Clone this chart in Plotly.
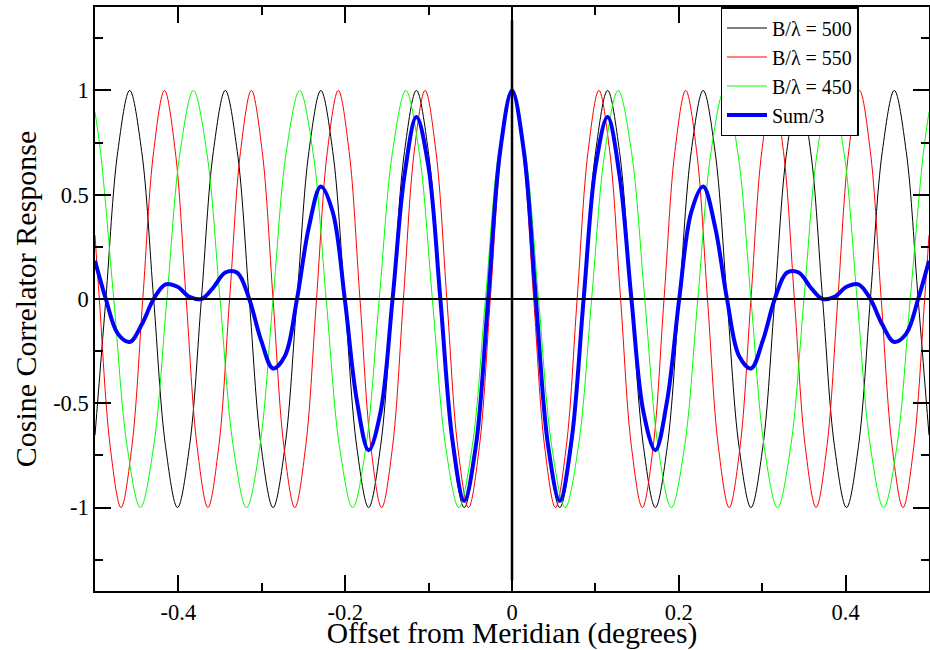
import plotly.graph_objects as go

# ---- data ----
black_x = [-0.5, -0.4870, -0.4727, -0.4584, -0.4440, -0.4297, -0.4154, -0.4011, -0.3867, -0.3724, -0.3581,
           -0.3438, -0.3294, -0.3151, -0.3008, -0.2865, -0.2722, -0.2578, -0.2435, -0.2292, -0.2149,
           -0.2005, -0.1862, -0.1719, -0.1576, -0.1432, -0.1289, -0.1146, -0.1003, -0.0859, -0.0716,
           -0.0573, -0.0430, -0.0286, -0.0143, 0.0,
           0.0143, 0.0286, 0.0430, 0.0573, 0.0716, 0.0859, 0.1003, 0.1146, 0.1289, 0.1432,
           0.1576, 0.1719, 0.1862, 0.2005, 0.2149, 0.2292, 0.2435, 0.2578, 0.2722, 0.2865,
           0.3008, 0.3151, 0.3294, 0.3438, 0.3581, 0.3724, 0.3867, 0.4011, 0.4154, 0.4297,
           0.4440, 0.4584, 0.4727, 0.4870, 0.5]
black_y = [-0.653,
           0.0, 0.707, 1.0, 0.707, 0.0, -0.707, -1.0, -0.707,
           0.0, 0.707, 1.0, 0.707, 0.0, -0.707, -1.0, -0.707,
           0.0, 0.707, 1.0, 0.707, 0.0, -0.707, -1.0, -0.707,
           0.0, 0.707, 1.0, 0.707, 0.0, -0.707, -1.0, -0.707,
           0.0, 0.707,
           1.0,
           0.707, 0.0,
           -0.707, -1.0, -0.707, 0.0, 0.707, 1.0, 0.707, 0.0,
           -0.707, -1.0, -0.707, 0.0, 0.707, 1.0, 0.707, 0.0,
           -0.707, -1.0, -0.707, 0.0, 0.707, 1.0, 0.707, 0.0,
           -0.707, -1.0, -0.707, 0.0, 0.707, 1.0, 0.707, 0.0,
           -0.653]

red_x = [-0.5, -0.4948, -0.4818, -0.4688, -0.4558, -0.4427, -0.4297, -0.4167, -0.4037, -0.3907, -0.3776,
         -0.3646, -0.3516, -0.3386, -0.3255, -0.3125, -0.2995, -0.2865, -0.2735, -0.2604, -0.2474,
         -0.2344, -0.2214, -0.2083, -0.1953, -0.1823, -0.1693, -0.1563, -0.1432, -0.1302, -0.1172,
         -0.1042, -0.0912, -0.0781, -0.0651, -0.0521, -0.0391, -0.0260, -0.0130, 0.0,
         0.0130, 0.0260, 0.0391, 0.0521, 0.0651, 0.0781, 0.0912, 0.1042, 0.1172, 0.1302,
         0.1432, 0.1563, 0.1693, 0.1823, 0.1953, 0.2083, 0.2214, 0.2344, 0.2474, 0.2604,
         0.2735, 0.2865, 0.2995, 0.3125, 0.3255, 0.3386, 0.3516, 0.3646, 0.3776, 0.3907,
         0.4037, 0.4167, 0.4297, 0.4427, 0.4558, 0.4688, 0.4818, 0.4948, 0.5]
red_y = [0.306,
         0.0, -0.707, -1.0, -0.707, 0.0, 0.707, 1.0, 0.707,
         0.0, -0.707, -1.0, -0.707, 0.0, 0.707, 1.0, 0.707,
         0.0, -0.707, -1.0, -0.707, 0.0, 0.707, 1.0, 0.707,
         0.0, -0.707, -1.0, -0.707, 0.0, 0.707, 1.0, 0.707,
         0.0, -0.707, -1.0, -0.707, 0.0, 0.707,
         1.0,
         0.707, 0.0, -0.707, -1.0, -0.707, 0.0,
         0.707, 1.0, 0.707, 0.0, -0.707, -1.0, -0.707, 0.0,
         0.707, 1.0, 0.707, 0.0, -0.707, -1.0, -0.707, 0.0,
         0.707, 1.0, 0.707, 0.0, -0.707, -1.0, -0.707, 0.0,
         0.707, 1.0, 0.707, 0.0, -0.707, -1.0, -0.707, 0.0,
         0.306]

green_x = [-0.5, -0.4934, -0.4775, -0.4615, -0.4456, -0.4297, -0.4138, -0.3979, -0.3820, -0.3661, -0.3501,
           -0.3342, -0.3183, -0.3024, -0.2865, -0.2706, -0.2546, -0.2387, -0.2228, -0.2069, -0.1910,
           -0.1751, -0.1592, -0.1432, -0.1273, -0.1114, -0.0955, -0.0796, -0.0637, -0.0477, -0.0318,
           -0.0159, 0.0,
           0.0159, 0.0318, 0.0477, 0.0637, 0.0796, 0.0955, 0.1114, 0.1273, 0.1432, 0.1592,
           0.1751, 0.1910, 0.2069, 0.2228, 0.2387, 0.2546, 0.2706, 0.2865, 0.3024, 0.3183,
           0.3342, 0.3501, 0.3661, 0.3820, 0.3979, 0.4138, 0.4297, 0.4456, 0.4615, 0.4775,
           0.4934, 0.5]
green_y = [0.896, 0.707, 0.0, -0.707, -1.0, -0.707, 0.0, 0.707, 1.0, 0.707, 0.0,
           -0.707, -1.0, -0.707, 0.0, 0.707, 1.0, 0.707, 0.0, -0.707, -1.0,
           -0.707, 0.0, 0.707, 1.0, 0.707, 0.0, -0.707, -1.0, -0.707, 0.0,
           0.707, 1.0,
           0.707, 0.0, -0.707, -1.0, -0.707, 0.0, 0.707, 1.0, 0.707, 0.0,
           -0.707, -1.0, -0.707, 0.0, 0.707, 1.0, 0.707, 0.0, -0.707, -1.0,
           -0.707, 0.0, 0.707, 1.0, 0.707, 0.0, -0.707, -1.0, -0.707, 0.0,
           0.707, 0.896]

sum_x = black_x
sum_y = [0.183, 0.0, -0.1662, -0.2060, -0.1228, 0.0, 0.0704, 0.0585, 0.0106, 0.0, 0.0553,
         0.1273, 0.1257, 0.0, -0.1987, -0.3333, -0.2727, 0.0, 0.3458, 0.5393, 0.4161,
         0.0, -0.4820, -0.7252, -0.5419, 0.0, 0.5942, 0.8727, 0.6376, 0.0, -0.6712,
         -0.9674, -0.6941, 0.0, 0.7057, 1.0,
         0.7057, 0.0, -0.6941, -0.9674, -0.6712, 0.0, 0.6376, 0.8727, 0.5942, 0.0,
         -0.5419, -0.7252, -0.4820, 0.0, 0.4161, 0.5393, 0.3458, 0.0, -0.2727, -0.3333,
         -0.1987, 0.0, 0.1257, 0.1273, 0.0553, 0.0, 0.0106, 0.0585, 0.0704, 0.0,
         -0.1228, -0.2060, -0.1662, 0.0, 0.183]

series_names = ["B/\u03bb = 500", "B/\u03bb = 550", "B/\u03bb = 450", "Sum/3"]

x_tick_vals = [-0.4, -0.2, 0.0, 0.2, 0.4]
x_tick_text = ["-0.4", "-0.2", "0", "0.2", "0.4"]
x_minor_vals = [-0.3, -0.1, 0.1, 0.3]
y_tick_vals = [-1.0, -0.5, 0.0, 0.5, 1.0]
y_tick_text = ["-1", "-0.5", "0", "0.5", "1"]
y_minor_vals = [-1.25, -0.75, -0.25, 0.25, 0.75, 1.25]

FONT = "Liberation Serif, Times New Roman, serif"

fig = go.Figure()
fig.add_trace(go.Scatter(x=black_x, y=black_y, mode="lines", name=series_names[0],
                         line=dict(color="black", width=1, shape="spline")))
fig.add_trace(go.Scatter(x=red_x, y=red_y, mode="lines", name=series_names[1],
                         line=dict(color="#ff0000", width=1, shape="spline")))
fig.add_trace(go.Scatter(x=green_x, y=green_y, mode="lines", name=series_names[2],
                         line=dict(color="#00ff00", width=1, shape="spline")))
fig.add_trace(go.Scatter(x=sum_x, y=sum_y, mode="lines", name=series_names[3],
                         line=dict(color="#0000ff", width=4, shape="spline")))

# reference lines through the origin
fig.add_shape(type="line", xref="x", yref="y", x0=-0.5, x1=0.5, y0=0, y1=0,
              line=dict(color="black", width=2), layer="above")
fig.add_shape(type="line", xref="x", yref="y", x0=0, x1=0, y0=-1.35, y1=1.335,
              line=dict(color="black", width=2.5), layer="above")

axis_common = dict(showline=True, linecolor="black", linewidth=1.5, mirror="allticks",
                   ticks="inside", ticklen=16, tickwidth=1.5, tickcolor="black",
                   showgrid=False, zeroline=False, automargin=False,
                   tickfont=dict(family=FONT, size=22.5, color="black"))

fig.update_xaxes(range=[-0.5, 0.5], tickmode="array", tickvals=x_tick_vals, ticktext=x_tick_text,
                 minor=dict(tickmode="array", tickvals=x_minor_vals, ticks="inside", ticklen=8,
                            tickwidth=1.5, tickcolor="black", showgrid=False),
                 title=dict(text="Offset from Meridian (degrees)",
                            font=dict(family=FONT, size=29.5, color="black"), standoff=7),
                 **axis_common)
fig.update_yaxes(range=[-1.4, 1.4], tickmode="array", tickvals=y_tick_vals, ticktext=y_tick_text,
                 minor=dict(tickmode="array", tickvals=y_minor_vals, ticks="inside", ticklen=8,
                            tickwidth=1.5, tickcolor="black", showgrid=False),
                 title=dict(text="Cosine Correlator Response",
                            font=dict(family=FONT, size=30, color="black"), standoff=8),
                 **axis_common)

fig.update_layout(
    width=930, height=650,
    margin=dict(l=95, r=1, t=7, b=59),
    paper_bgcolor="white", plot_bgcolor="white",
    font=dict(family=FONT, color="black"),
    showlegend=True,
    legend=dict(x=0.75, y=1, xanchor="left", yanchor="top",
                bgcolor="white", bordercolor="black", borderwidth=1.5,
                font=dict(family=FONT, size=20, color="black"),
                itemwidth=40, tracegroupgap=0),
)

fig.write_html("out.html", config={"displayModeBar": False},
               post_script="document.body.style.margin='0';document.body.style.overflow='hidden';")
